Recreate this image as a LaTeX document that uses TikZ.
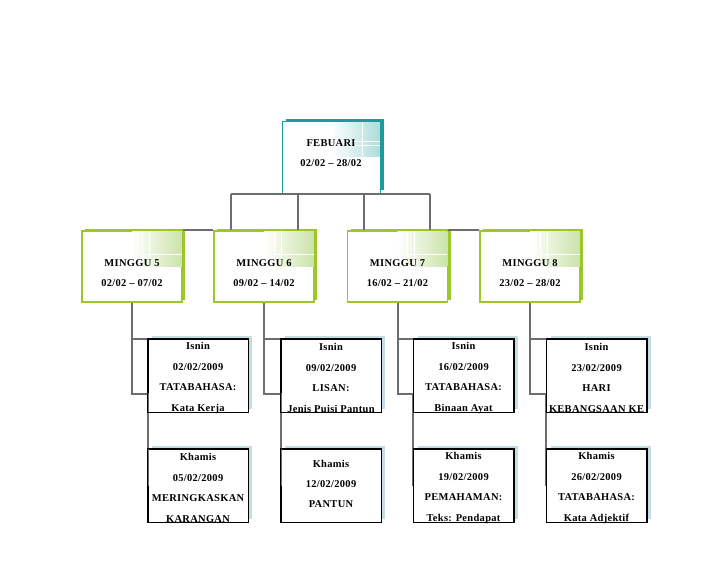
\documentclass[tikz,border=0pt]{standalone}
\usepackage{fontspec}
\setmainfont{Liberation Serif}[LetterSpace=3]
\usetikzlibrary{shadows}
\definecolor{KGreen}{HTML}{9BC72A}
\definecolor{KTeal}{HTML}{1E9A9C}
\definecolor{KBlue}{HTML}{C3DDE3}
\definecolor{KGray}{HTML}{6E6E6E}
\definecolor{KLGreen}{HTML}{CBE3AA}
\definecolor{KLTeal}{HTML}{ADDDDB}

\begin{document}
\begin{tikzpicture}[x=1bp,y=-1bp,
    every node/.style={font=\fontsize{10.5}{20.6}\selectfont\bfseries},
    monat/.style={draw=KTeal, line width=1bp, fill=white, minimum width=98bp, minimum height=71bp, inner sep=0pt,
      general shadow={fill=KTeal, shadow xshift=4bp, shadow yshift=3bp}},
    woche/.style={draw=KGreen, line width=1.5bp, fill=white, minimum width=100bp, minimum height=71bp, inner sep=0pt,
      general shadow={fill=KGreen, shadow xshift=3bp, shadow yshift=2bp}},
    tag/.style={draw=black, line width=1bp, fill=white, minimum width=100bp, minimum height=73bp, inner sep=0pt,
      general shadow={fill=KBlue, shadow xshift=4bp, shadow yshift=3bp}},
    lbl/.style={align=center, inner sep=0pt},
    conn/.style={draw=KGray, line width=2bp}]
    \useasboundingbox (0,0) rectangle (728,563);

    % Kaesten (leer), Texte folgen unten
    \node[monat] (feb) at (331,157.5) {};
    \node[woche] (m5) at (132,266.5) {};
    \node[woche] (m6) at (264,266.5) {};
    \node[woche] (m7) at (397.5,266.5) {};
    \node[woche] (m8) at (530,266.5) {};

    % Verbindungen oben
    \draw[conn] ([xshift=-100bp]feb.south) -- ([xshift=99bp]feb.south);
    \foreach \dx in {-100,-33,33,99}
      \draw[conn] ([xshift=\dx bp]feb.south) -- ([xshift=\dx bp]feb.south |- m6.north);
    \draw[conn] (m5.north east) -- (m6.north west);
    \draw[conn] (m7.north east) -- (m8.north west);

    % Tage
    \node[tag] (i5) at (198,375.5) {};
    \node[tag] (i6) at (331,375.5) {};
    \node[tag] (i7) at (463.5,375.5) {};
    \node[tag] (i8) at (596.5,375.5) {};
    \node[tag] (k5) at (198,485.5) {};
    \node[tag] (k6) at (331,485.5) {};
    \node[tag] (k7) at (463.5,485.5) {};
    \node[tag] (k8) at (596.5,485.5) {};

    % Verbindungen unten
    \foreach \m/\i/\k in {m5/i5/k5, m6/i6/k6, m7/i7/k7, m8/i8/k8} {
      \coordinate (c\i) at ([yshift=-55bp]\i.north west);
      \draw[conn] (\m.south) |- (\i.north west);
      \draw[conn] (\m.south) |- (c\i) -- (\k.west);
    }
    % Raender nochmal drueber
    \foreach \t in {i5,i6,i7,i8,k5,k6,k7,k8}
      \draw[line width=1bp] (\t.north west) rectangle (\t.south east);

    % Verlauf oben rechts
    \foreach \m in {m5,m6,m7,m8} {
      \shade[left color=white, right color=KLGreen] ([yshift=-1bp]\m.north) rectangle ([xshift=-1bp,yshift=-36bp]\m.north east);
      \draw[white, line width=1bp] ([xshift=10bp,yshift=-1bp]\m.north) -- ++(0,35);
      \draw[white, line width=1bp] ([xshift=17bp,yshift=-1bp]\m.north) -- ++(0,35);
      \draw[white, line width=0.8bp] ([xshift=10bp,yshift=-24bp]\m.north) -- ([xshift=-1bp,yshift=-24bp]\m.north east);
    }
    \shade[left color=white, right color=KLTeal] ([yshift=-1bp]feb.north) rectangle ([xshift=-1bp,yshift=-35bp]feb.north east);
    \draw[white, line width=1bp] ([xshift=10bp,yshift=-20bp]feb.north) -- ([xshift=-1bp,yshift=-20bp]feb.north east);
    \draw[white, line width=1bp] ([xshift=10bp,yshift=-24bp]feb.north) -- ([xshift=-1bp,yshift=-24bp]feb.north east);
    \draw[white, line width=1bp] ([xshift=31bp,yshift=-1bp]feb.north) -- ++(0,34);

    % Beschriftungen
    \node[lbl, font=\fontsize{10.5}{20}\selectfont\bfseries] (febtxt) at ([yshift=4.5bp]feb.center) {FEBUARI\\02/02 -- 28/02};
    \node[lbl, font=\fontsize{10.5}{20}\selectfont\bfseries] (m5txt) at ([yshift=-6.5bp]m5.center) {MINGGU 5\\02/02 -- 07/02};
    \node[lbl, font=\fontsize{10.5}{20}\selectfont\bfseries] (m6txt) at ([yshift=-6.5bp]m6.center) {MINGGU 6\\09/02 -- 14/02};
    \node[lbl, font=\fontsize{10.5}{20}\selectfont\bfseries] (m7txt) at ([yshift=-6.5bp]m7.center) {MINGGU 7\\16/02 -- 21/02};
    \node[lbl, font=\fontsize{10.5}{20}\selectfont\bfseries] (m8txt) at ([yshift=-6.5bp]m8.center) {MINGGU 8\\23/02 -- 28/02};

    \node[lbl] (i5txt) at ([yshift=-2.5bp]i5.center) {Isnin\\02/02/2009\\TATABAHASA:\\Kata Kerja};
    \node[lbl] (i6txt) at ([yshift=-2.5bp]i6.center) {Isnin\\09/02/2009\\LISAN:\\Jenis Puisi Pantun};
    \node[lbl] (i7txt) at ([yshift=-2.5bp]i7.center) {Isnin\\16/02/2009\\TATABAHASA:\\Binaan Ayat};
    \node[lbl] (i8txt) at ([yshift=-2.5bp]i8.center) {Isnin\\23/02/2009\\HARI\\KEBANGSAAN KE};
    \node[lbl] (k5txt) at ([yshift=-2.5bp]k5.center) {Khamis\\05/02/2009\\MERINGKASKAN\\KARANGAN};
    \node[lbl, font=\fontsize{10.5}{20}\selectfont\bfseries] (k6txt) at ([yshift=1.3bp]k6.center) {Khamis\\12/02/2009\\PANTUN};
    \node[lbl] (k7txt) at ([yshift=-2.5bp]k7.center) {Khamis\\19/02/2009\\PEMAHAMAN:\\Teks: Pendapat};
    \node[lbl] (k8txt) at ([yshift=-2.5bp]k8.center) {Khamis\\26/02/2009\\TATABAHASA:\\Kata Adjektif};
  \end{tikzpicture}
\end{document}
